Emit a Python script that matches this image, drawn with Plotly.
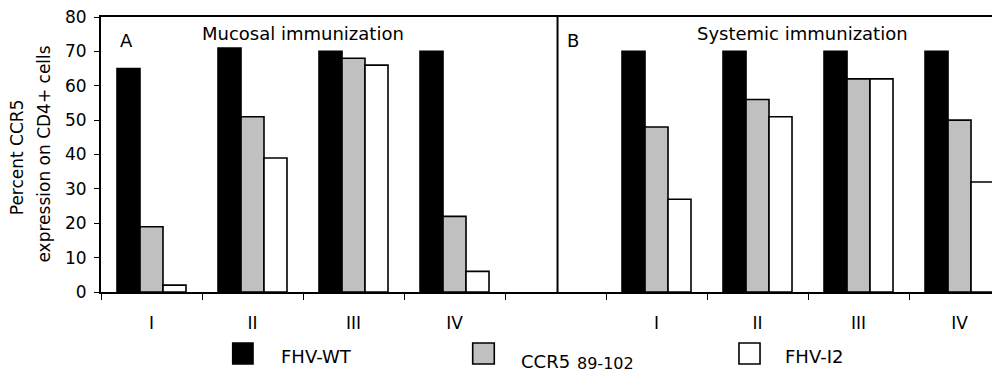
import plotly.graph_objects as go

# ---- data ----
categories = ["I", "II", "III", "IV", "", "I", "II", "III", "IV"]
fhv_wt = [65, 71, 70, 70, None, 70, 70, 70, 70]
ccr5_89_102 = [19, 51, 68, 22, None, 48, 56, 62, 50]
fhv_i2 = [2, 39, 66, 6, None, 27, 51, 62, 32]
series_names = ["FHV-WT", "CCR5 89-102", "FHV-I2"]
series_colors = ["#000000", "#c0c0c0", "#ffffff"]
y_ticks = [0, 10, 20, 30, 40, 50, 60, 70, 80]

FONT = "DejaVu Sans"
FS = 17
FS_TXT = 18

x_idx = list(range(len(categories)))

fig = go.Figure()
for name, vals, col in zip(series_names, [fhv_wt, ccr5_89_102, fhv_i2], series_colors):
    fig.add_trace(go.Bar(
        x=x_idx, y=vals, name=name,
        marker=dict(color=col, line=dict(color="black", width=1.6)),
        showlegend=False,
    ))

# panel divider
fig.add_shape(type="line", xref="x", yref="y", x0=4.02, x1=4.02, y0=0, y1=80,
              line=dict(color="black", width=2))

# panel labels
ann = [
    dict(x=-0.25, y=73.1, text="A"),
    dict(x=1.5, y=75.2, text="Mucosal immunization"),
    dict(x=4.17, y=73.1, text="B"),
    dict(x=6.45, y=75.2, text="Systemic immunization"),
]
for a in ann:
    fig.add_annotation(x=a["x"], y=a["y"], xref="x", yref="y", text=a["text"],
                       showarrow=False, xanchor="center", yanchor="middle",
                       font=dict(family=FONT, size=FS_TXT, color="black"))

# y-axis title (two lines)
fig.add_annotation(x=-0.0926, y=0.49, xref="paper", yref="paper", text="Percent CCR5",
                   textangle=-90, showarrow=False, xanchor="center", yanchor="middle",
                   font=dict(family=FONT, size=FS, color="black"))
fig.add_annotation(x=-0.0639, y=0.5, xref="paper", yref="paper", text="expression on CD4+ cells",
                   textangle=-90, showarrow=False, xanchor="center", yanchor="middle",
                   font=dict(family=FONT, size=FS, color="black"))

# legend (drawn manually)
leg_boxes = [(0.1452, 0.1676), (0.4098, 0.4336), (0.7034, 0.7266)]
for (x0, x1), col in zip(leg_boxes, series_colors):
    fig.add_shape(type="rect", xref="paper", yref="paper", x0=x0, x1=x1, y0=-0.2618, y1=-0.1855,
                  fillcolor=col, line=dict(color="black", width=1.6))
leg_texts = [
    (0.1962, -0.236, "FHV-WT", FS_TXT),
    (0.4609, -0.2545, "CCR5", FS_TXT),
    (0.5226, -0.2618, "89-102", 16),
    (0.7519, -0.236, "FHV-I2", FS_TXT),
]
for x, y, t, s in leg_texts:
    fig.add_annotation(x=x, y=y, xref="paper", yref="paper", text=t, showarrow=False,
                       xanchor="left", yanchor="middle",
                       font=dict(family=FONT, size=s, color="black"))

fig.update_layout(
    width=1000, height=375,
    margin=dict(l=93, r=0, t=9, b=91, autoexpand=False),
    plot_bgcolor="white", paper_bgcolor="white",
    barmode="group", bargap=0.317, bargroupgap=0,
    font=dict(family=FONT, size=FS, color="black"),
    xaxis=dict(
        range=[-0.5, 8.48], tickvals=x_idx, ticktext=categories,
        ticks="", showgrid=False, zeroline=False, automargin=False,
        showline=True, linecolor="black", linewidth=2, mirror=True,
        ticklabelstandoff=15, ticklabeloverflow="allow",
        minor=dict(ticks="outside", ticklen=6, tickwidth=1, tickcolor="black",
                   tick0=0.5, dtick=1, showgrid=False),
        tickfont=dict(family=FONT, size=FS, color="black"),
    ),
    yaxis=dict(
        range=[0, 80], tickvals=y_ticks, ticks="outside", ticklen=5, tickwidth=1,
        tickcolor="black", showgrid=False, zeroline=False, automargin=False,
        showline=True, linecolor="black", linewidth=2,
        ticklabelstandoff=4, ticklabeloverflow="allow",
        tickfont=dict(family=FONT, size=FS, color="black"),
    ),
)

fig.write_html("out.html")
